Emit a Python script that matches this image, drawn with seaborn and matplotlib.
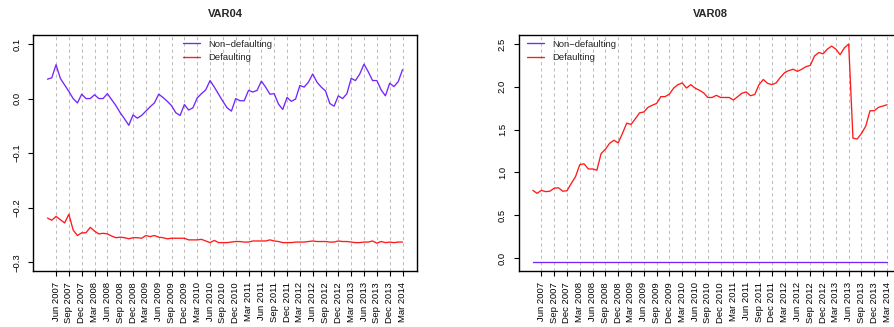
import numpy as np
import pandas as pd
import matplotlib
matplotlib.use("Agg")
import matplotlib.pyplot as plt
import seaborn as sns

# Monthly observations, April 2007 .. March 2014
months = pd.date_range("2007-04-01", periods=84, freq="MS")
tick_positions = list(range(2, 84, 3))
tick_labels = [m.strftime("%b %Y") for m in months[tick_positions]]

series_names = ["Non\u2212defaulting", "Defaulting"]

var04_non_defaulting = [
    0.0355, 0.038, 0.062, 0.037, 0.025, 0.013, 0.0, -0.008, 0.008, 0.0, 0.0, 0.007,
    0.0, 0.0, 0.009, -0.002, -0.013, -0.026, -0.037, -0.049, -0.030, -0.036, -0.031, -0.023,
    -0.015, -0.008, 0.008, 0.002, -0.005, -0.013, -0.026, -0.031, -0.011, -0.021, -0.017, 0.001,
    0.009, 0.016, 0.033, 0.021, 0.008, -0.005, -0.017, -0.023, 0.0, -0.004, -0.004, 0.015,
    0.012, 0.015, 0.032, 0.021, 0.008, 0.009, -0.010, -0.020, 0.002, -0.005, -0.001, 0.024,
    0.021, 0.030, 0.045, 0.030, 0.021, 0.014, -0.009, -0.014, 0.005, 0.0, 0.009, 0.037,
    0.033, 0.045, 0.063, 0.049, 0.033, 0.033, 0.016, 0.005, 0.028, 0.022, 0.031, 0.053,
]
var04_defaulting = [
    -0.219, -0.223, -0.216, -0.222, -0.228, -0.212, -0.241, -0.251, -0.246, -0.246, -0.236, -0.243,
    -0.248, -0.247, -0.248, -0.252, -0.255, -0.254, -0.255, -0.257, -0.255, -0.255, -0.256, -0.251,
    -0.253, -0.251, -0.254, -0.255, -0.257, -0.256, -0.256, -0.256, -0.256, -0.259, -0.259, -0.259,
    -0.258, -0.261, -0.264, -0.260, -0.264, -0.264, -0.264, -0.263, -0.262, -0.262, -0.263, -0.263,
    -0.261, -0.261, -0.261, -0.261, -0.259, -0.261, -0.262, -0.264, -0.264, -0.264, -0.263, -0.263,
    -0.263, -0.262, -0.261, -0.262, -0.262, -0.262, -0.263, -0.263, -0.261, -0.262, -0.262, -0.263,
    -0.264, -0.264, -0.263, -0.263, -0.261, -0.265, -0.262, -0.264, -0.263, -0.264, -0.263, -0.263,
]
var08_non_defaulting = [
    -0.043, -0.043, -0.043, -0.043, -0.043, -0.043, -0.043, -0.043, -0.043, -0.043, -0.043, -0.043,
    -0.043, -0.043, -0.043, -0.043, -0.043, -0.043, -0.043, -0.043, -0.043, -0.043, -0.043, -0.043,
    -0.043, -0.043, -0.043, -0.043, -0.043, -0.043, -0.043, -0.043, -0.043, -0.043, -0.043, -0.043,
    -0.043, -0.043, -0.043, -0.043, -0.043, -0.043, -0.043, -0.043, -0.043, -0.043, -0.043, -0.043,
    -0.043, -0.043, -0.043, -0.043, -0.043, -0.043, -0.043, -0.043, -0.043, -0.043, -0.043, -0.043,
    -0.043, -0.043, -0.043, -0.043, -0.043, -0.043, -0.043, -0.043, -0.043, -0.043, -0.043, -0.043,
    -0.043, -0.043, -0.043, -0.043, -0.043, -0.043, -0.043, -0.043, -0.043, -0.043, -0.043, -0.043,
]
var08_defaulting = [
    0.79, 0.755, 0.79, 0.775, 0.78, 0.815, 0.82, 0.78, 0.785, 0.87, 0.95, 1.09,
    1.10, 1.04, 1.04, 1.025, 1.22, 1.27, 1.34, 1.375, 1.345, 1.455, 1.575, 1.56,
    1.625, 1.695, 1.705, 1.76, 1.785, 1.805, 1.885, 1.885, 1.915, 1.985, 2.025, 2.045,
    1.985, 2.025, 1.985, 1.96, 1.93, 1.875, 1.875, 1.9, 1.875, 1.875, 1.875, 1.845,
    1.885, 1.925, 1.94, 1.895, 1.91, 2.025, 2.085, 2.04, 2.025, 2.045, 2.11, 2.165,
    2.19, 2.205, 2.18, 2.205, 2.235, 2.25, 2.36, 2.4, 2.385, 2.44, 2.475, 2.44,
    2.375, 2.455, 2.5, 1.4, 1.39, 1.455, 1.54, 1.72, 1.72, 1.76, 1.775, 1.79,
]

var04_yticks = [-0.3, -0.2, -0.1, 0.0, 0.1]
var08_yticks = [0.0, 0.5, 1.0, 1.5, 2.0, 2.5]

sns.set_style("white")
plt.rcParams["font.family"] = ["Liberation Sans", "DejaVu Sans"]
plt.rcParams["axes.unicode_minus"] = True

palette = {series_names[0]: "#7426FA", series_names[1]: "#FF1A1A"}
FS = 6.8


def long_frame(non_def, dflt):
    idx = np.arange(len(months))
    return pd.concat([
        pd.DataFrame({"month": idx, "value": non_def, "series": series_names[0]}),
        pd.DataFrame({"month": idx, "value": dflt, "series": series_names[1]}),
    ], ignore_index=True)


def draw_panel(ax, df, title, ylim, yticks, legend_anchor):
    sns.lineplot(data=df, x="month", y="value", hue="series", hue_order=series_names,
                 palette=palette, estimator=None, sort=False, linewidth=0.95, ax=ax)
    n = len(months)
    pad = 0.04 * (n - 1)
    ax.set_xlim(-pad, n - 1 + pad)
    ax.set_ylim(*ylim)
    ax.set_xticks(tick_positions)
    ax.set_xticklabels(tick_labels, rotation=90, fontsize=FS)
    ax.set_yticks(yticks)
    ax.set_yticklabels([f"{v:.1f}".replace("-", "\u2212") for v in yticks],
                       rotation=90, va="center", fontsize=FS)
    ax.tick_params(axis="both", direction="out", length=3.5, width=0.8,
                   colors="black", bottom=True, left=True)
    ax.tick_params(axis="x", pad=4.5)
    ax.tick_params(axis="y", pad=5)
    ax.set_xlabel("")
    ax.set_ylabel("")
    ax.grid(axis="x", color="#BDBDBD", linestyle=(0, (3, 3)), linewidth=0.75)
    ax.set_axisbelow(True)
    for s in ax.spines.values():
        s.set_color("black")
        s.set_linewidth(1.0)
    ax.set_title(title, fontsize=8.0, fontweight="bold", pad=13)
    handles, labels = ax.get_legend_handles_labels()
    ax.legend(handles, labels, loc="upper left", bbox_to_anchor=legend_anchor,
              frameon=False, fontsize=FS, handlelength=1.8, handletextpad=0.9,
              labelspacing=0.45, borderpad=0, borderaxespad=0)


fig = plt.figure(figsize=(8.95, 3.27), dpi=100)
ax1 = fig.add_axes([0.0372, 0.1713, 0.4284, 0.7217])
ax2 = fig.add_axes([0.5795, 0.1713, 0.4275, 0.7217])

draw_panel(ax1, long_frame(var04_non_defaulting, var04_defaulting), "VAR04",
           (-0.316, 0.1165), var04_yticks, (0.39, 0.98))
draw_panel(ax2, long_frame(var08_non_defaulting, var08_defaulting), "VAR08",
           (-0.152, 2.605), var08_yticks, (0.022, 0.98))

fig.savefig("out.png", dpi=100)
